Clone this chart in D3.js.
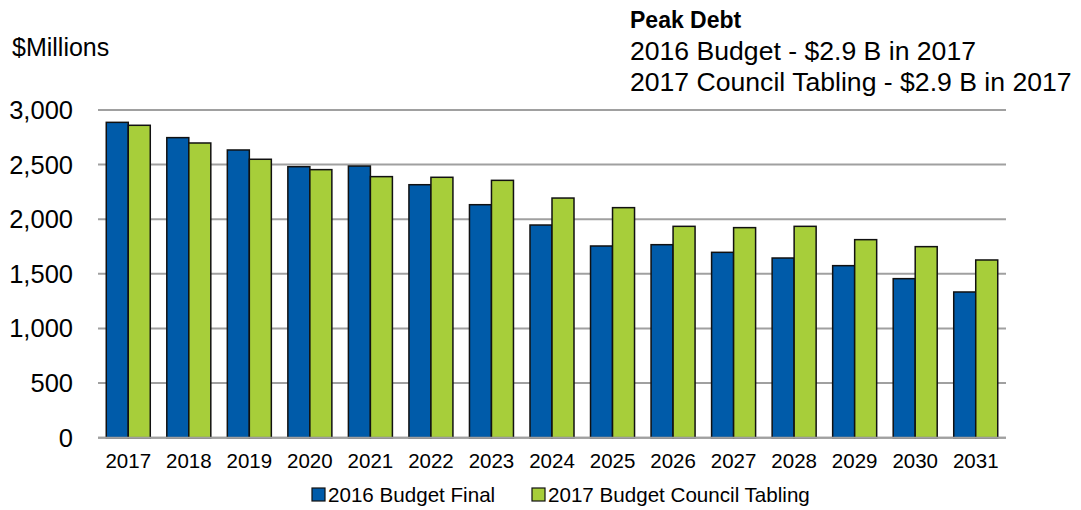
<!DOCTYPE html>
<html>
<head>
<meta charset="utf-8">
<script src="https://cdn.jsdelivr.net/npm/d3@7.9.0/dist/d3.min.js"></script>
<style>
  body { margin: 0; background: #fff; }
  svg text { font-family: "Liberation Sans", Arial, sans-serif; fill: #000; }
</style>
</head>
<body>
<svg id="chart" width="1081" height="510"></svg>
<script>
// data
const years = ["2017", "2018", "2019", "2020", "2021", "2022", "2023", "2024",
               "2025", "2026", "2027", "2028", "2029", "2030", "2031"];
const budget2016 = [2887, 2747, 2634, 2481, 2487, 2316, 2133, 1947,
                    1755, 1767, 1697, 1645, 1575, 1456, 1334];
const tabling2017 = [2860, 2698, 2549, 2454, 2390, 2384, 2356, 2194,
                     2106, 1935, 1923, 1935, 1813, 1749, 1627];
const seriesNames = ["2016 Budget Final", "2017 Budget Council Tabling"];
const yTicks = [0, 500, 1000, 1500, 2000, 2500, 3000];
const peakLines = ["2016 Budget - $2.9 B in 2017", "2017 Council Tabling - $2.9 B in 2017"];

const colors = ["#005BA9", "#A7CE3A"];

const svg = d3.select("#chart");

const x = d3.scaleBand()
    .domain(years)
    .range([98, 1006])
    .paddingInner(0.273)
    .paddingOuter(0.1365);

const xSub = d3.scaleBand()
    .domain(seriesNames)
    .range([0, x.bandwidth()]);

const y = d3.scaleLinear()
    .domain([0, 3000])
    .range([437.7, 110]);

// gridlines
svg.append("g")
  .selectAll("line")
  .data(yTicks)
  .join("line")
    .attr("x1", 98)
    .attr("x2", 1006)
    .attr("y1", d => y(d))
    .attr("y2", d => y(d))
    .attr("stroke", "#a0a0a0")
    .attr("stroke-width", 2);

// y axis labels
const yAxis = svg.append("g")
    .attr("transform", "translate(73,0)")
    .call(d3.axisLeft(y).tickValues(yTicks).tickSize(0).tickPadding(0).tickFormat(d3.format(",")));
yAxis.select(".domain").remove();
yAxis.selectAll("text")
    .style("font-size", "25.5px")
    .attr("dy", "0.33em");

// x axis labels
const xAxis = svg.append("g")
    .attr("transform", "translate(0,454)")
    .call(d3.axisBottom(x).tickSize(0).tickPadding(0));
xAxis.select(".domain").remove();
xAxis.selectAll("text")
    .style("font-size", "20.5px")
    .attr("dy", "0.7em");

// bars
const rows = years.map((yr, i) => ({ year: yr, values: [budget2016[i], tabling2017[i]] }));

svg.append("g")
  .selectAll("g")
  .data(rows)
  .join("g")
    .attr("transform", d => `translate(${x(d.year)},0)`)
  .selectAll("rect")
  .data(d => d.values.map((v, k) => ({ key: seriesNames[k], value: v, k })))
  .join("rect")
    .attr("x", d => xSub(d.key))
    .attr("width", xSub.bandwidth())
    .attr("y", d => y(d.value))
    .attr("height", d => y(0) - y(d.value))
    .attr("fill", d => colors[d.k])
    .attr("stroke", "#111")
    .attr("stroke-width", 1.5);

// baseline
svg.append("line")
    .attr("x1", 98).attr("x2", 1006)
    .attr("y1", y(0)).attr("y2", y(0))
    .attr("stroke", "#a0a0a0")
    .attr("stroke-width", 2);

// unit label
svg.append("text")
    .attr("x", 12)
    .attr("y", 56)
    .style("font-size", "25px")
    .text("$Millions");

// peak debt note
svg.append("text")
    .attr("x", 630)
    .attr("y", 28)
    .style("font-size", "23px")
    .style("font-weight", "bold")
    .text("Peak Debt");

svg.append("g")
  .selectAll("text")
  .data(peakLines)
  .join("text")
    .attr("x", 630)
    .attr("y", (d, i) => 60 + i * 31)
    .style("font-size", "26.6px")
    .text(d => d);

// legend
const legendX = [312, 532];
const legend = svg.append("g")
  .selectAll("g")
  .data(seriesNames)
  .join("g")
    .attr("transform", (d, i) => `translate(${legendX[i]},488)`);

legend.append("rect")
    .attr("width", 13)
    .attr("height", 13)
    .attr("fill", (d, i) => colors[i])
    .attr("stroke", "#111")
    .attr("stroke-width", 1.2);

legend.append("text")
    .attr("x", 16)
    .attr("y", 14)
    .style("font-size", "20.6px")
    .text(d => d);
</script>
</body>
</html>
